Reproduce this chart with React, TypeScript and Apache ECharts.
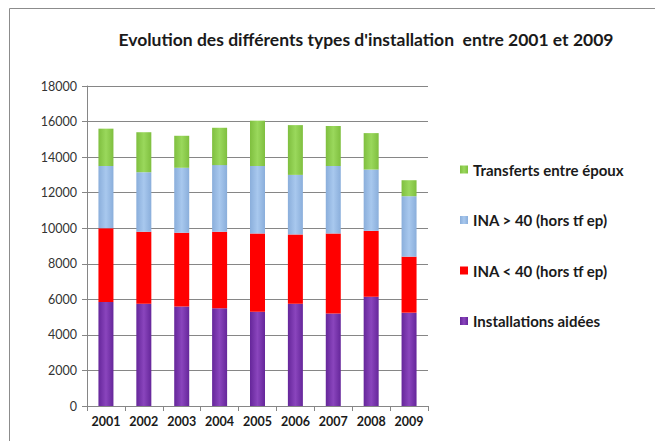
import React, { useEffect, useRef } from "react";
import * as echarts from "echarts";

const years = ["2001", "2002", "2003", "2004", "2005", "2006", "2007", "2008", "2009"];
const installationsAidees = [5850, 5750, 5600, 5500, 5300, 5750, 5200, 6150, 5250];
const inaMoins40 = [4150, 4050, 4150, 4300, 4400, 3900, 4500, 3700, 3150];
const inaPlus40 = [3500, 3350, 3650, 3750, 3800, 3350, 3800, 3450, 3400];
const transferts = [2100, 2250, 1800, 2100, 2550, 2800, 2250, 2050, 900];

const FONT = "Lato";

function grad(edge: string, mid: string) {
  return new echarts.graphic.LinearGradient(0, 0, 1, 0, [
    { offset: 0, color: edge },
    { offset: 0.5, color: mid },
    { offset: 1, color: edge },
  ]);
}

export default function App() {
  const ref = useRef<HTMLDivElement>(null);
  useEffect(() => {
    document.body.style.margin = "0";
    const chart = echarts.init(ref.current!, null, { renderer: "svg" });
    const mk = (name: string, data: number[], color: any, legendColor: string) => ({
      name,
      type: "bar",
      stack: "total",
      barWidth: 15,
      data,
      itemStyle: { color },
      color: legendColor,
    });
    chart.setOption({
      animation: false,
      backgroundColor: "#ffffff",
      title: {
        text: "Evolution des différents types d'installation  entre 2001 et 2009",
        left: 361,
        textAlign: "center",
        top: 25,
        textStyle: { fontFamily: FONT, fontSize: 17.5, fontWeight: "bold", color: "#1a1a1a" },
      },
      legend: {
        orient: "vertical",
        left: 455,
        top: 157,
        itemGap: 35.5,
        itemWidth: 8,
        itemHeight: 8,
        icon: "rect",
        data: ["Transferts entre époux", "INA > 40 (hors tf ep)", "INA < 40 (hors tf ep)", "Installations aidées"],
        textStyle: { fontFamily: FONT, fontSize: 15, fontWeight: "bold", color: "#1a1a1a" },
      },
      grid: { left: 87, right: 227, top: 86, bottom: 35 },
      xAxis: {
        type: "category",
        data: years,
        axisLine: { lineStyle: { color: "#868686" } },
        axisTick: { show: true, length: 5, lineStyle: { color: "#868686" } },
        axisLabel: { fontFamily: FONT, fontSize: 12.5, fontWeight: "bold", color: "#1a1a1a", margin: 9 },
      },
      yAxis: {
        type: "value",
        min: 0,
        max: 18000,
        interval: 2000,
        axisLine: { show: true, lineStyle: { color: "#868686" } },
        axisTick: { show: true, length: 5, lineStyle: { color: "#868686" } },
        splitLine: { lineStyle: { color: "#868686" } },
        axisLabel: {
          fontFamily: FONT,
          fontSize: 12.5,
          color: "#333333",
          margin: 10,
          formatter: (v: number) => String(v),
        },
      },
      series: [
        mk("Installations aidées", installationsAidees, grad("#65269a", "#8a45bd"), "#7030a0"),
        mk("INA < 40 (hors tf ep)", inaMoins40, "#ff0000", "#ff0000"),
        mk("INA > 40 (hors tf ep)", inaPlus40, grad("#8aaedb", "#a8c8ee"), "#95b3d7"),
        mk("Transferts entre époux", transferts, grad("#7fbf3f", "#9ad85c"), "#8ed050"),
      ],
      graphic: [
        { type: "line", shape: { x1: 9.5, y1: 8.5, x2: 655, y2: 8.5 }, style: { stroke: "#8c8c8c", lineWidth: 1 } },
        { type: "line", shape: { x1: 9.5, y1: 8.5, x2: 9.5, y2: 441 }, style: { stroke: "#8c8c8c", lineWidth: 1 } },
      ],
    });
    return () => chart.dispose();
  }, []);
  return <div ref={ref} style={{ width: 655, height: 441 }} />;
}
